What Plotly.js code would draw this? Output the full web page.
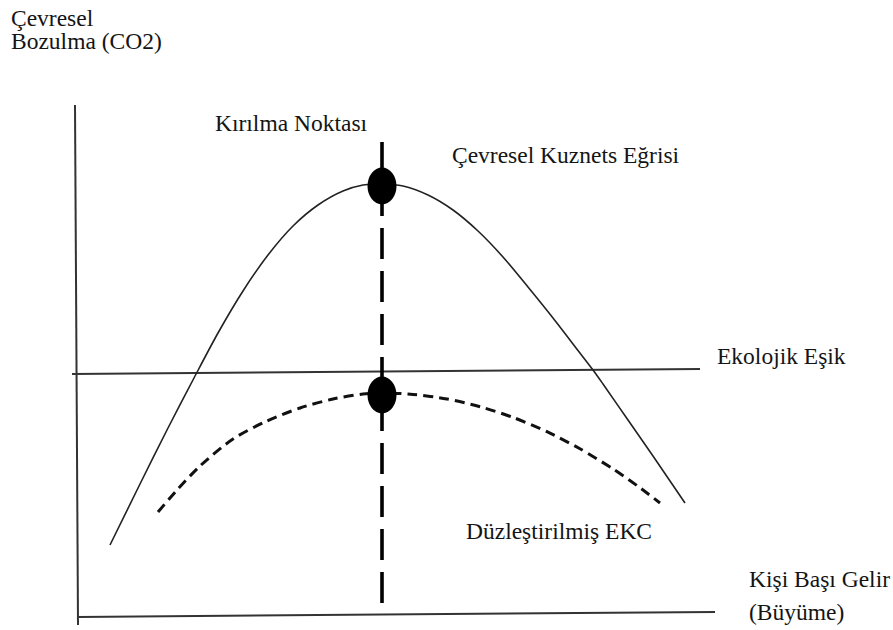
<!DOCTYPE html>
<html>
<head>
<meta charset="utf-8">
<script src="https://cdn.plot.ly/plotly-3.0.1.min.js"></script>
<style>
  html, body { margin: 0; padding: 0; background: #ffffff; }
  #chart { width: 893px; height: 630px; }
</style>
</head>
<body>
<div id="chart"></div>
<script>
// ---- Data (conceptual units: income on x, degradation on y) ----
const ekcX = [3.2, 6.2, 9.0, 11.6, 14.0, 16.5, 19.0, 21.5, 24.0, 26.5, 28.5, 30.4, 32.5, 35.0, 37.5, 40.0, 42.5, 45.0, 47.5, 50.0, 51.5, 52.5, 55.0, 57.5, 60.7];
const ekcY = [7.0, 13.1, 18.7, 23.7, 28.2, 32.4, 36.0, 38.9, 41.0, 42.4, 43.0, 43.1, 42.9, 42.0, 40.5, 38.4, 35.8, 32.8, 29.7, 26.45, 24.5, 23.1, 19.5, 15.9, 11.2];

const flatX = [8.0, 9.9, 12.2, 15.5, 18.9, 22.2, 25.5, 28.5, 30.4, 33.5, 36.9, 40.2, 43.5, 46.9, 50.2, 53.5, 56.0, 58.2];
const flatY = [10.3, 12.5, 14.9, 17.6, 19.4, 20.7, 21.6, 22.1, 22.2, 22.06, 21.6, 20.83, 19.76, 18.33, 16.62, 14.61, 12.87, 11.2];

const thresholdX = [-0.6, 62.2];
const thresholdY = [24.1, 24.6];

const turningX = [30.4, 30.4];
const turningY = [47.3, 0.0];

const yAxisX = [-0.3, 0.0];
const yAxisY = [51.0, -1.0];
const xAxisX = [0.0, 63.7];
const xAxisY = [-0.2, 0.3];

const peakX = [30.4, 30.4];
const peakY = [42.9, 22.0];

const labelTexts = ["Çevresel", "Bozulma (CO2)", "Kırılma Noktası", "Çevresel Kuznets Eğrisi",
                    "Ekolojik Eşik", "Düzleştirilmiş EKC", "Kişi Başı Gelir", "(Büyüme)"];

// ---- Styling / placement ----
const ink = "#141414";
const fontFamily = "Liberation Serif, Times New Roman, DejaVu Serif, serif";
const labelPos = [
  [-6.9, 59.7], [-6.9, 57.4], [13.5, 49.2], [37.2, 46.0],
  [63.7, 25.95], [38.6, 8.45], [66.9, 3.6], [66.9, 0.3]
];

function lineTrace(x, y, color, width, dash, shape) {
  return { x: x, y: y, type: "scatter", mode: "lines", hoverinfo: "skip",
           line: { color: color, width: width, dash: dash || "solid",
                   shape: shape || "linear", smoothing: 0.8 } };
}

const traces = [
  lineTrace(yAxisX, yAxisY, "#333333", 2),
  lineTrace(xAxisX, xAxisY, "#333333", 2),
  lineTrace(thresholdX, thresholdY, "#333333", 2),
  lineTrace(ekcX, ekcY, "#222222", 1.6, "solid", "spline"),
  lineTrace(flatX, flatY, "#111111", 3, "10px,6px", "spline"),
  lineTrace(turningX, turningY, "#000000", 3.6, "31px,12px")
];

const shapes = peakX.map((px, i) => ({
  type: "circle", xref: "x", yref: "y",
  xsizemode: "pixel", ysizemode: "pixel",
  xanchor: px, yanchor: peakY[i],
  x0: -14.5, x1: 14.5, y0: -18.5, y1: 18.5,
  fillcolor: "#000000", line: { width: 0 }, layer: "above"
}));

const annotations = labelTexts.map((t, i) => ({
  text: t, x: labelPos[i][0], y: labelPos[i][1], xref: "x", yref: "y",
  xanchor: "left", yanchor: "middle", showarrow: false,
  font: { family: fontFamily, size: 23.5, color: ink }
}));

const layout = {
  width: 893, height: 630,
  margin: { l: 0, r: 0, t: 0, b: 0, pad: 0 },
  paper_bgcolor: "#ffffff", plot_bgcolor: "#ffffff",
  font: { family: fontFamily },
  showlegend: false, hovermode: false,
  xaxis: { range: [-7.8, 81.5], visible: false, fixedrange: true },
  yaxis: { range: [-1.5, 61.5], visible: false, fixedrange: true },
  shapes: shapes,
  annotations: annotations
};

Plotly.newPlot("chart", traces, layout, { staticPlot: true, displayModeBar: false });
</script>
</body>
</html>
